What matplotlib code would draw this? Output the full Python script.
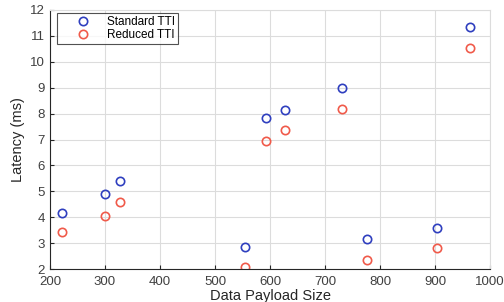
import matplotlib
matplotlib.use("Agg")
import matplotlib.pyplot as plt

payload = [222, 300, 328, 555, 593, 627, 730, 776, 903, 964]
standard_tti = [4.15, 4.88, 5.38, 2.85, 7.82, 8.13, 8.99, 3.15, 3.60, 11.35]
reduced_tti = [3.43, 4.06, 4.58, 2.09, 6.94, 7.36, 8.19, 2.35, 2.80, 10.54]

plt.rcParams['font.family'] = ['Liberation Sans', 'DejaVu Sans']

fig = plt.figure(figsize=(5.04, 3.02), dpi=100)
ax = fig.add_axes([50 / 504, 1 - 269 / 302, 440 / 504, 259 / 302])

ax.plot(payload, standard_tti, 'o', mfc='none', mec='#2f3fbf', ms=6, mew=1.2,
        label='Standard TTI')
ax.plot(payload, reduced_tti, 'o', mfc='none', mec='#f05a4a', ms=6, mew=1.2,
        label='Reduced TTI')

ax.set_xlim(200, 1000)
ax.set_ylim(2, 12)
ax.set_xticks(range(200, 1001, 100))
ax.set_yticks(range(2, 13))
ax.grid(True, color='#dcdcdc', lw=0.8)
ax.set_axisbelow(True)
for s in ['top', 'right']:
    ax.spines[s].set_color('#dcdcdc')
for s in ['left', 'bottom']:
    ax.spines[s].set_color('#262626')
ax.tick_params(direction='in', length=3, labelsize=9.5, colors='#262626',
               labelcolor='#404040')
ax.tick_params(axis='x', pad=5)
ax.tick_params(top=False, right=False)

ax.set_xlabel('Data Payload Size', fontsize=10.5, color='#262626', labelpad=1)
ax.set_ylabel('Latency (ms)', fontsize=10.5, color='#262626', labelpad=4)

leg = ax.legend(loc='upper left', fontsize=8.5, frameon=True, fancybox=False,
                edgecolor='#262626', borderpad=0.25, handlelength=3.9,
                handletextpad=0.05, labelspacing=0.05, borderaxespad=0,
                bbox_to_anchor=(0.016, 0.988))
leg.get_frame().set_linewidth(0.8)

fig.savefig('out.png', dpi=100)
